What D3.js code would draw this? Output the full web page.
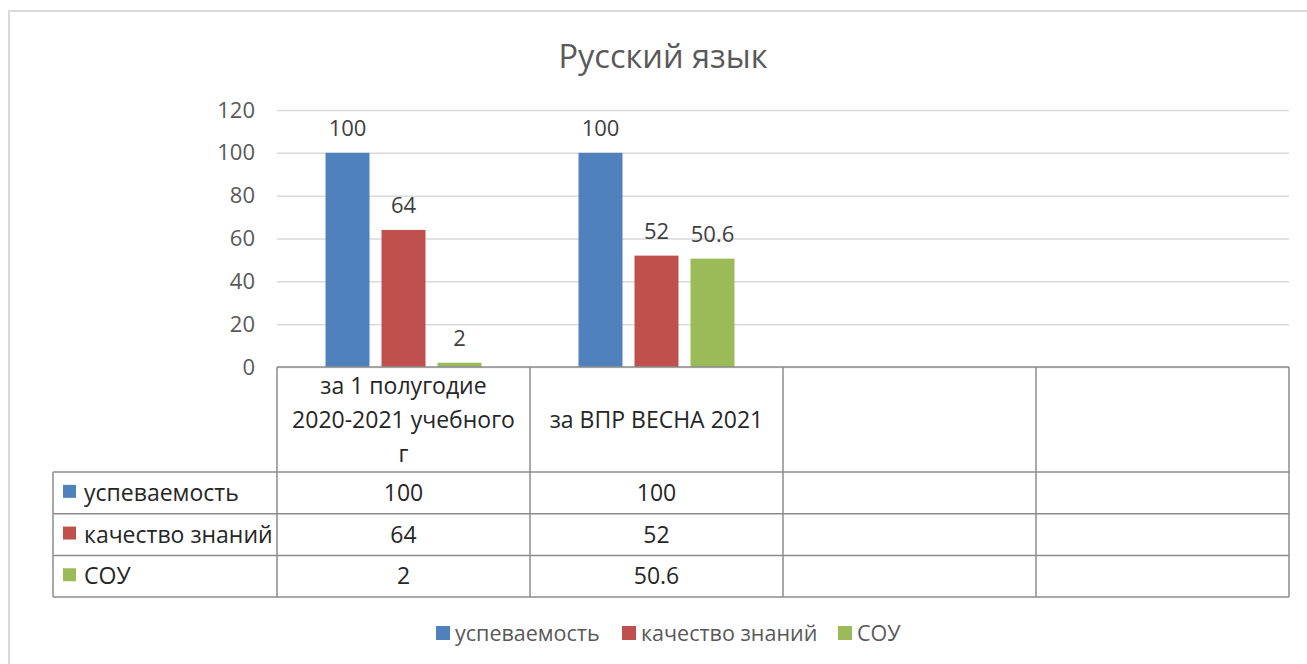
<!DOCTYPE html>
<html>
<head>
<meta charset="utf-8">
<script src="https://cdn.jsdelivr.net/npm/d3@7"></script>
<style>
  body { margin: 0; background: #fff; }
  text { font-family: "Open Sans", sans-serif; }
</style>
</head>
<body>
<div id="chart"></div>
<script>
/* DATA */
const title = "Русский язык";
const categoryLines = [
  ["за 1 полугодие", "2020-2021 учебного", "г"],
  ["за ВПР ВЕСНА 2021"],
  [],
  []
];
const seriesNames = ["успеваемость", "качество знаний", "СОУ"];
const uspevaemost = [100, 100];
const kachestvo = [64, 52];
const sou = [2, 50.6];
const yTicks = [0, 20, 40, 60, 80, 100, 120];

const seriesValues = [uspevaemost, kachestvo, sou];
const colors = ["#4f81bd", "#c0504d", "#9bbb59"];

/* LAYOUT */
const width = 1307,
  height = 664,
  plot = { left: 277, right: 1289, top: 110, bottom: 367 },
  table = { left: 53, headerBottom: 472, rowH: 41.7 };

const svg = d3.select("#chart")
  .append("svg")
  .attr("width", width)
  .attr("height", height);

// outer chart border (only top and left visible)
svg.append("path")
  .attr("d", `M9,${height} V11 H${width}`)
  .attr("fill", "none")
  .attr("stroke", "#d9d9d9")
  .attr("stroke-width", 2);

// title
svg.append("text")
  .attr("x", 663)
  .attr("y", 68)
  .attr("text-anchor", "middle")
  .attr("font-size", 32.5)
  .attr("fill", "#595959")
  .text(title);

/* SCALES */
const xScale = d3.scaleBand()
  .domain(d3.range(categoryLines.length))
  .range([plot.left, plot.right]);

const xInner = d3.scaleBand()
  .domain(d3.range(seriesNames.length))
  .range([42.5, xScale.bandwidth() - 42.5])
  .paddingInner(12 / 56)
  .paddingOuter(6 / 56);

const yScale = d3.scaleLinear()
  .domain([0, 120])
  .range([plot.bottom, plot.top]);

/* GRID + Y AXIS */
const yAxis = d3.axisLeft(yScale)
  .tickValues(yTicks)
  .tickSize(-(plot.right - plot.left))
  .tickPadding(22);

const yAxisGroup = svg.append("g")
  .attr("transform", `translate(${plot.left},0)`)
  .call(yAxis);
yAxisGroup.select(".domain").remove();
yAxisGroup.selectAll(".tick line")
  .attr("stroke", "#d9d9d9")
  .attr("stroke-width", 1.5);
yAxisGroup.selectAll(".tick text")
  .attr("font-size", 22)
  .attr("fill", "#595959")
  .attr("font-family", "Open Sans, sans-serif");

/* BARS */
const bars = [];
seriesValues.forEach((vals, s) => {
  vals.forEach((v, c) => bars.push({ s, c, v }));
});

svg.append("g")
  .selectAll("rect")
  .data(bars)
  .join("rect")
  .attr("x", d => xScale(d.c) + xInner(d.s))
  .attr("width", xInner.bandwidth())
  .attr("y", d => yScale(d.v))
  .attr("height", d => yScale(0) - yScale(d.v))
  .attr("fill", d => colors[d.s]);

svg.append("g")
  .selectAll("text")
  .data(bars)
  .join("text")
  .attr("x", d => xScale(d.c) + xInner(d.s) + xInner.bandwidth() / 2)
  .attr("y", d => yScale(d.v) - 17)
  .attr("text-anchor", "middle")
  .attr("font-size", 22)
  .attr("fill", "#404040")
  .text(d => d.v);

/* DATA TABLE */
const rowY = i => table.headerBottom + i * table.rowH;
const tableBottom = rowY(seriesNames.length);
const lineColor = "#8c8c8c";
const tg = svg.append("g");

// header top (axis line) and horizontal row lines
tg.append("line")
  .attr("x1", plot.left).attr("x2", plot.right)
  .attr("y1", plot.bottom).attr("y2", plot.bottom);
d3.range(seriesNames.length + 1).forEach(i => {
  tg.append("line")
    .attr("x1", table.left).attr("x2", plot.right)
    .attr("y1", rowY(i)).attr("y2", rowY(i));
});
// vertical lines
tg.append("line")
  .attr("x1", table.left).attr("x2", table.left)
  .attr("y1", table.headerBottom).attr("y2", tableBottom);
d3.range(categoryLines.length + 1).forEach(i => {
  const x = plot.left + i * xScale.step();
  tg.append("line")
    .attr("x1", x).attr("x2", x)
    .attr("y1", plot.bottom).attr("y2", tableBottom);
});
tg.selectAll("line")
  .attr("stroke", lineColor)
  .attr("stroke-width", 1.5);

// header labels
const headerMid = (plot.bottom + table.headerBottom) / 2;
categoryLines.forEach((lines, c) => {
  lines.forEach((ln, i) => {
    tg.append("text")
      .attr("x", xScale(c) + xScale.bandwidth() / 2)
      .attr("y", headerMid + (i - (lines.length - 1) / 2) * 34 + 8)
      .attr("text-anchor", "middle")
      .attr("font-size", 23)
      .attr("fill", "#262626")
      .text(ln);
  });
});

// row labels and values
seriesNames.forEach((name, s) => {
  const cy = rowY(s) + table.rowH / 2;
  tg.append("rect")
    .attr("x", 63).attr("y", cy - 8)
    .attr("width", 13).attr("height", 13)
    .attr("fill", colors[s]);
  tg.append("text")
    .attr("x", 84).attr("y", cy + 8)
    .attr("font-size", 23)
    .attr("fill", "#262626")
    .text(name);
  seriesValues[s].forEach((v, c) => {
    tg.append("text")
      .attr("x", xScale(c) + xScale.bandwidth() / 2)
      .attr("y", cy + 8)
      .attr("text-anchor", "middle")
      .attr("font-size", 23)
      .attr("fill", "#262626")
      .text(v);
  });
});

/* LEGEND */
const legendX = [436, 622, 838];
const legend = svg.append("g")
  .selectAll("g")
  .data(seriesNames)
  .join("g")
  .attr("transform", (d, i) => `translate(${legendX[i]},626)`);
legend.append("rect")
  .attr("width", 14).attr("height", 14)
  .attr("fill", (d, i) => colors[i]);
legend.append("text")
  .attr("x", 19).attr("y", 15)
  .attr("font-size", 21.5)
  .attr("fill", "#595959")
  .text(d => d);
</script>
</body>
</html>
